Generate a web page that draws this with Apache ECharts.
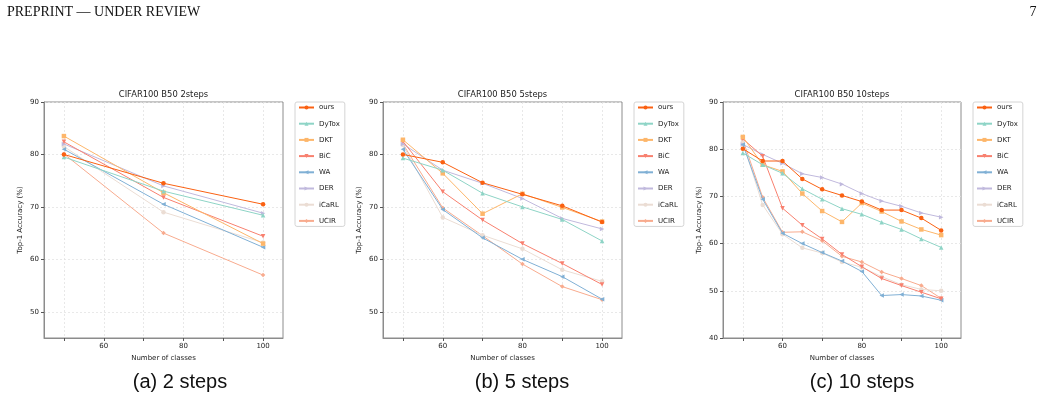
<!DOCTYPE html>
<html>
<head>
<meta charset="utf-8">
<title>CIFAR100 B50</title>
<script src="https://cdn.jsdelivr.net/npm/echarts@6/dist/echarts.min.js"></script>
<style>
  html, body { margin: 0; padding: 0; background: #fff; }
  #chart { width: 1041px; height: 399px; }
</style>
</head>
<body>
<div id="chart"></div>
<script>
// methods, in legend order
const methods = ['ours', 'DyTox', 'DKT', 'BiC', 'WA', 'DER', 'iCaRL', 'UCIR'];

// x values (number of classes) for each setting
const classes2 = [50, 75, 100];
const classes5 = [50, 60, 70, 80, 90, 100];
const classes10 = [50, 55, 60, 65, 70, 75, 80, 85, 90, 95, 100];

// (a) 2 steps
const ours2  = [80.0, 74.5, 70.5];
const dytox2 = [79.5, 73.0, 68.4];
const dkt2   = [83.5, 72.7, 63.0];
const bic2   = [82.4, 71.8, 64.4];
const wa2    = [81.0, 70.5, 62.3];
const der2   = [82.0, 74.0, 68.8];
const icarl2 = [81.5, 69.0, 63.2];
const ucir2  = [80.1, 65.0, 57.0];

// (b) 5 steps
const ours5  = [80.0, 78.5, 74.6, 72.4, 70.2, 67.1];
const dytox5 = [79.3, 77.0, 72.6, 70.0, 67.6, 63.5];
const dkt5   = [82.8, 76.4, 68.7, 72.5, 69.9, 67.2];
const bic5   = [82.5, 72.9, 67.5, 63.0, 59.2, 55.2];
const wa5    = [81.0, 69.5, 64.1, 60.0, 56.7, 52.4];
const der5   = [82.0, 77.0, 74.5, 71.6, 67.8, 65.8];
const icarl5 = [81.8, 68.0, 64.6, 62.0, 58.0, 55.8];
const ucir5  = [82.0, 69.8, 64.5, 59.1, 54.8, 52.3];

// (c) 10 steps
const ours10  = [80.1, 77.5, 77.5, 73.7, 71.5, 70.2, 68.9, 67.1, 67.1, 65.4, 62.8];
const dytox10 = [79.2, 76.7, 74.9, 71.6, 69.4, 67.4, 66.2, 64.5, 63.0, 61.0, 59.2];
const dkt10   = [82.6, 76.7, 75.3, 70.6, 66.9, 64.6, 68.6, 66.8, 64.7, 63.0, 61.8];
const bic10   = [82.2, 78.5, 67.5, 63.9, 61.0, 57.7, 55.1, 52.6, 51.1, 49.7, 48.3];
const wa10    = [81.0, 69.4, 62.2, 60.0, 58.1, 56.3, 54.1, 49.0, 49.2, 48.9, 48.0];
const der10   = [81.0, 78.9, 77.0, 74.8, 74.0, 72.6, 70.6, 69.0, 67.9, 66.5, 65.6];
const icarl10 = [81.5, 68.2, 62.0, 59.1, 58.0, 56.1, 55.0, 53.0, 51.3, 50.3, 50.0];
const ucir10  = [82.0, 69.8, 62.4, 62.5, 60.6, 57.3, 56.1, 54.0, 52.6, 51.1, 48.4];

// tick values
const xTicks = [50, 60, 70, 80, 90, 100];
const xLabels = [60, 80, 100];
const yTicks = [50, 60, 70, 80, 90];
const yTicks10 = [40, 50, 60, 70, 80, 90];

// styles per method
const styles = {
  ours:  { color: '#FA6112', symbol: 'circle',   rotate: 0 },
  DyTox: { color: '#8ED4C6', symbol: 'triangle', rotate: 0 },
  DKT:   { color: '#FDB66A', symbol: 'rect',     rotate: 0 },
  BiC:   { color: '#F8806F', symbol: 'triangle', rotate: 180 },
  WA:    { color: '#80B0D5', symbol: 'triangle', rotate: 90 },
  DER:   { color: '#C0B9DD', symbol: 'triangle', rotate: -90 },
  iCaRL: { color: '#EBDDD4', symbol: 'circle',   rotate: 0 },
  UCIR:  { color: '#F8AB8E', symbol: 'diamond',  rotate: 0 }
};

const panels = [
  { title: 'CIFAR100 B50 2steps', caption: '(a) 2 steps', x: classes2,
    data: [ours2, dytox2, dkt2, bic2, wa2, der2, icarl2, ucir2],
    left: 44, width: 239, yMin: 45, yTicks: yTicks, legendLeft: 295, capX: 180 },
  { title: 'CIFAR100 B50 5steps', caption: '(b) 5 steps', x: classes5,
    data: [ours5, dytox5, dkt5, bic5, wa5, der5, icarl5, ucir5],
    left: 383, width: 239, yMin: 45, yTicks: yTicks, legendLeft: 634, capX: 522 },
  { title: 'CIFAR100 B50 10steps', caption: '(c) 10 steps', x: classes10,
    data: [ours10, dytox10, dkt10, bic10, wa10, der10, icarl10, ucir10],
    left: 723, width: 238, yMin: 40, yTicks: yTicks10, legendLeft: 973, capX: 862 }
];

const TOP = 102, HEIGHT = 236;
const spine = '#8c8c8c';
const font = 'DejaVu Sans';

const grids = [], xAxes = [], yAxes = [], legends = [], series = [], texts = [];

panels.forEach((p, i) => {
  grids.push({
    left: p.left, top: TOP, width: p.width, height: HEIGHT,
    show: true, borderColor: spine, borderWidth: 1, backgroundColor: 'transparent'
  });
  xAxes.push({
    gridIndex: i, type: 'value', min: 45, max: 105,
    name: 'Number of classes', nameLocation: 'middle', nameGap: 13,
    nameTextStyle: { fontFamily: font, fontSize: 7, color: '#222' },
    axisLine: { show: true, lineStyle: { color: spine, width: 1 } },
    axisTick: { show: true, length: 3, customValues: xTicks, lineStyle: { color: '#555' } },
    axisLabel: { customValues: xLabels, fontFamily: font, fontSize: 7, color: '#222', margin: 5 },
    splitLine: { show: true, lineStyle: { color: '#e3e3e3', type: [2, 2], width: 0.8 } }
  });
  yAxes.push({
    gridIndex: i, type: 'value', min: p.yMin, max: 90,
    name: 'Top-1 Accuracy (%)', nameLocation: 'middle', nameGap: 20,
    nameTextStyle: { fontFamily: font, fontSize: 7, color: '#222' },
    axisLine: { show: true, lineStyle: { color: spine, width: 1 } },
    axisTick: { show: true, length: 3, customValues: p.yTicks, lineStyle: { color: '#555' } },
    axisLabel: { customValues: p.yTicks, fontFamily: font, fontSize: 7, color: '#222', margin: 5 },
    splitLine: { show: true, lineStyle: { color: '#e3e3e3', type: [2, 2], width: 0.8 } }
  });
  legends.push({
    orient: 'vertical', left: p.legendLeft, top: TOP,
    data: methods,
    itemWidth: 15, itemHeight: 5, itemGap: 7.2,
    padding: [1, 5, 1, 3],
    borderColor: '#d4d4d4', borderWidth: 1, borderRadius: 2, backgroundColor: '#fff',
    textStyle: { fontFamily: font, fontSize: 7, color: '#222', lineHeight: 9 },
    selectedMode: false
  });
  methods.forEach((m, k) => {
    const st = styles[m];
    series.push({
      name: m, type: 'line', xAxisIndex: i, yAxisIndex: i,
      data: p.x.map((c, j) => [c, p.data[k][j]]),
      symbol: st.symbol, symbolRotate: st.rotate, symbolSize: 4.5,
      showSymbol: true,
      lineStyle: { color: st.color, width: 1 },
      itemStyle: { color: st.color },
      z: 10 - k,
      animation: false
    });
  });
  // subplot title
  texts.push({
    type: 'text', x: p.left + p.width / 2, y: 95,
    style: { text: p.title, fontFamily: font, fontSize: 8.4, fill: '#222',
      align: 'center', verticalAlign: 'middle' }
  });
  // caption below
  texts.push({
    type: 'text', x: p.capX, y: 382,
    style: { text: p.caption, fontFamily: 'Liberation Sans', fontSize: 20, fill: '#111',
      align: 'center', verticalAlign: 'middle' }
  });
});

// page header
texts.push({
  type: 'text', x: 7, y: 12,
  style: { text: 'PREPRINT — UNDER REVIEW', fontFamily: 'Liberation Serif', fontSize: 14,
    fill: '#111', align: 'left', verticalAlign: 'middle' }
});
texts.push({
  type: 'text', x: 1033, y: 12,
  style: { text: '7', fontFamily: 'Liberation Serif', fontSize: 14,
    fill: '#111', align: 'center', verticalAlign: 'middle' }
});

const chart = echarts.init(document.getElementById('chart'), null, { renderer: 'canvas' });
chart.setOption({
  animation: false,
  grid: grids,
  xAxis: xAxes,
  yAxis: yAxes,
  legend: legends,
  series: series,
  graphic: texts
});
</script>
</body>
</html>
